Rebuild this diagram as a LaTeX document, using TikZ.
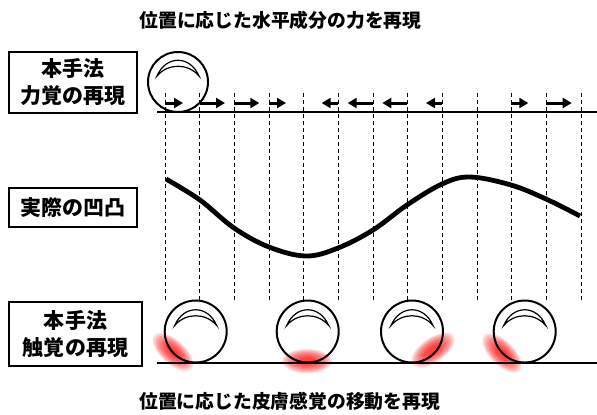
\documentclass[tikz,border=0pt]{standalone}
\usepackage{fontspec}
\newfontfamily\cjk{Noto Sans CJK JP}
\usepackage{tikz}
\usetikzlibrary{arrows.meta}

\begin{document}
\begin{tikzpicture}[x=1bp,y=-1bp,
	labelbox/.style={draw, line width=2.5bp, align=center, inner sep=0pt, font=\cjk\bfseries\fontsize{21bp}{27bp}\selectfont},
	heading/.style={font=\cjk\bfseries\fontsize{18.8bp}{22bp}\selectfont},
	ball/.style={draw, circle, line width=2bp, minimum size=62bp, inner sep=0pt},
	guide/.style={dash pattern=on 4bp off 3bp, line width=0.8bp},
	push/.style={line width=3bp, -{Triangle[length=9bp,width=10bp]}},
	ground/.style={line width=2bp},
	glow/.style={red, opacity=0.13}]
				\useasboundingbox (0,0) rectangle (597,414);
				\node[heading] (headtop) at (280.5,20) {位置に応じた水平成分の力を再現};
				\node[heading] (headbottom) at (289.7,401.7) {位置に応じた皮膚感覚の移動を再現};
				\node[labelbox, minimum width=128bp, minimum height=61bp] (forcebox) at (73,82.5) {本手法\\力覚の再現};
				\node[labelbox, minimum width=128bp, minimum height=39bp] (shapebox) at (73,207.5) {実際の凹凸};
				\node[labelbox, minimum width=133bp, minimum height=64bp] (touchbox) at (75.5,334) {本手法\\触覚の再現};
				\foreach \gx/\gy/\ga in {173/352/-42, 307/361/0, 433/350/35, 502/353/-45}
					\foreach \k in {0,...,9}
						\fill[glow, shift={(\gx,\gy)}, rotate=\ga] (0,0) ellipse [x radius={25-2*\k}, y radius={12-\k}];
				\foreach \i in {0,...,12}
					\draw[guide] ({165+34.67*\i},93) coordinate (top\i) -- ({165+34.67*\i},302) coordinate (bot\i);
				\foreach \xa/\xb in {165/183, 200/225, 234.3/259.3, 269/286, 338/321.7, 372.7/347.7, 407.3/382.3, 442.3/426, 511.3/528.3, 546/571.7}
					\draw[push] (\xa,103) -- (\xb,103);
				\coordinate (upleft) at (157,112);
				\coordinate (upright) at (597,112);
				\coordinate (lowleft) at (157,363);
				\coordinate (lowright) at (597,363);
				\draw[ground] (upleft) -- (upright);
				\draw[ground] (lowleft) -- (lowright);
				\draw[line width=4.8bp] plot[smooth, tension=0.6] coordinates {(166,179) (200,200) (234,228) (269,247) (306,256) (338,248) (373,230) (407,205) (442,184) (470,177) (511,185) (546,199) (580,216)};
				\node[ball, minimum size=60bp] (ball0) at (178,82) {};
				\foreach \bx [count=\i] in {195.7, 307.7, 412, 524.7}
					\node[ball] (ball\i) at (\bx,331.5) {};
				\foreach \b in {ball0, ball1, ball2, ball3, ball4}
					\draw[line width=1.2bp, shift={(\b)}] (-21,-6) .. controls (-12,-27) and (12,-27) .. (21,-6) .. controls (10,-19) and (-10,-19) .. (-21,-6) -- cycle;
			\end{tikzpicture}
\end{document}
